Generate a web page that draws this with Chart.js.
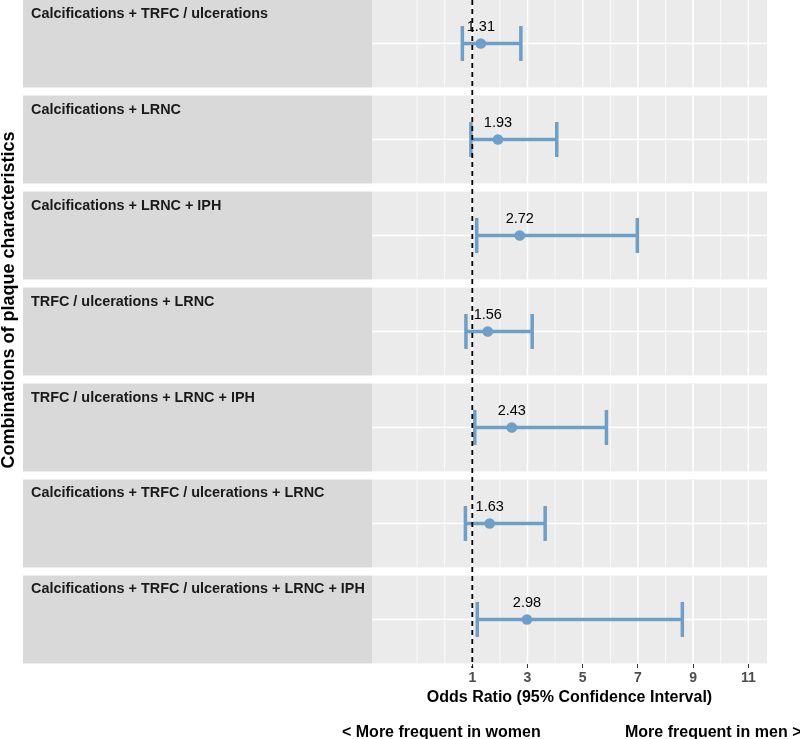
<!DOCTYPE html>
<html>
<head>
<meta charset="utf-8">
<script src="https://cdn.jsdelivr.net/npm/chart.js@4.4.1/dist/chart.umd.min.js"></script>
<style>
    html, body { margin: 0; padding: 0; background: #ffffff; }
    #wrap { position: relative; width: 800px; height: 739px; }
</style>
</head>
<body>
<div id="wrap"><canvas id="forestChart"></canvas></div>
<script>
// Data
const combinations = [
    'Calcifications + TRFC / ulcerations',
    'Calcifications + LRNC',
    'Calcifications + LRNC + IPH',
    'TRFC / ulcerations + LRNC',
    'TRFC / ulcerations + LRNC + IPH',
    'Calcifications + TRFC / ulcerations + LRNC',
    'Calcifications + TRFC / ulcerations + LRNC + IPH'
];
const oddsRatios = [1.31, 1.93, 2.72, 1.56, 2.43, 1.63, 2.98];
const lowerCI = [0.64, 0.95, 1.16, 0.77, 1.09, 0.75, 1.18];
const upperCI = [2.76, 4.06, 6.98, 3.17, 5.86, 3.64, 8.61];
const xTicks = [1, 3, 5, 7, 9, 11];
const gridValues = [-1, 0, 1, 2, 3, 4, 5, 6, 7, 8, 9, 10, 11];
const refValue = 1;

const barColor = '#6f9ec6';
const fontFamily = '"Liberation Sans", Arial, Helvetica, sans-serif';

Chart.defaults.font.family = fontFamily;

// one line dataset per row for the confidence interval, caps are rotated 'line' points
const datasets = combinations.map((name, i) => ({
    label: name,
    data: [{ x: lowerCI[i], y: i }, { x: upperCI[i], y: i }],
    showLine: true,
    borderColor: barColor,
    borderWidth: 3.5,
    pointStyle: 'line',
    pointRotation: 90,
    pointRadius: 17.5,
    pointHoverRadius: 17.5,
    pointBorderWidth: 3.5,
    pointBorderColor: barColor
}));

datasets.push({
    label: 'Odds ratio',
    data: oddsRatios.map((v, i) => ({ x: v, y: i })),
    backgroundColor: barColor,
    borderWidth: 0,
    pointRadius: 5.3,
    pointHoverRadius: 5.3
});

// panel backgrounds, grid and facet labels
const panelPlugin = {
    id: 'panels',
    beforeDatasetsDraw(chart) {
        const { ctx, chartArea, scales: { x, y } } = chart;
        ctx.save();
        combinations.forEach((name, i) => {
            const cy = y.getPixelForValue(i);
            const half = Math.abs(y.getPixelForValue(i + 0.458) - cy);
            const top = cy - half;
            const h = half * 2;

            ctx.fillStyle = '#ebebeb';
            ctx.fillRect(chartArea.left, top, chartArea.right - chartArea.left, h);

            ctx.strokeStyle = '#ffffff';
            gridValues.forEach(v => {
                const px = x.getPixelForValue(v);
                ctx.lineWidth = xTicks.includes(v) ? 1.5 : 0.8;
                ctx.beginPath();
                ctx.moveTo(px, top);
                ctx.lineTo(px, top + h);
                ctx.stroke();
            });
            ctx.lineWidth = 1.5;
            ctx.beginPath();
            ctx.moveTo(chartArea.left, cy);
            ctx.lineTo(chartArea.right, cy);
            ctx.stroke();

            ctx.fillStyle = '#d9d9d9';
            ctx.fillRect(23, top, chartArea.left - 23, h);
            ctx.fillStyle = '#1a1a1a';
            ctx.font = 'bold 14.4px ' + fontFamily;
            ctx.textAlign = 'left';
            ctx.textBaseline = 'alphabetic';
            ctx.fillText(name, 31, top + 18);
        });
        ctx.restore();
    },
    afterDatasetsDraw(chart) {
        const { ctx, chartArea, scales: { x } } = chart;
        ctx.save();
        // reference line at OR = 1
        const rx = x.getPixelForValue(refValue);
        ctx.strokeStyle = '#000000';
        ctx.lineWidth = 1.8;
        ctx.setLineDash([5, 4]);
        ctx.beginPath();
        ctx.moveTo(rx, chartArea.top);
        ctx.lineTo(rx, chartArea.bottom + 4);
        ctx.stroke();
        ctx.setLineDash([]);

        // value labels above the points
        const meta = chart.getDatasetMeta(chart.data.datasets.length - 1);
        ctx.fillStyle = '#000000';
        ctx.font = '14.5px ' + fontFamily;
        ctx.textAlign = 'center';
        ctx.textBaseline = 'alphabetic';
        meta.data.forEach((pt, i) => {
            ctx.fillText(oddsRatios[i].toFixed(2), pt.x, pt.y - 12);
        });
        ctx.restore();
    },
    afterDraw(chart) {
        const { ctx } = chart;
        ctx.save();
        ctx.fillStyle = '#000000';
        ctx.font = 'bold 16px ' + fontFamily;
        ctx.textAlign = 'left';
        ctx.textBaseline = 'alphabetic';
        ctx.fillText('< More frequent in women', 342, 737);
        ctx.fillText('More frequent in men >', 625, 737);

        ctx.translate(9, 300);
        ctx.rotate(-Math.PI / 2);
        ctx.font = 'bold 18px ' + fontFamily;
        ctx.textAlign = 'center';
        ctx.textBaseline = 'middle';
        ctx.fillText('Combinations of plaque characteristics', 0, 0);
        ctx.restore();
    }
};

new Chart(document.getElementById('forestChart'), {
    type: 'scatter',
    data: { datasets: datasets },
    options: {
        responsive: true,
        maintainAspectRatio: false,
        animation: false,
        events: [],
        layout: {
            autoPadding: false,
            padding: { left: 372, right: 33, top: 0, bottom: 0 }
        },
        plugins: {
            legend: { display: false },
            tooltip: { enabled: false }
        },
        scales: {
            x: {
                type: 'linear',
                min: -2.634,
                max: 11.678,
                bounds: 'data',
                afterBuildTicks: scale => {
                    scale.ticks = xTicks.map(v => ({ value: v }));
                },
                afterFit: scale => {
                    scale.height = 75;
                },
                border: { display: false },
                grid: {
                    drawOnChartArea: false,
                    drawTicks: true,
                    tickLength: 4,
                    tickColor: '#333333',
                    tickWidth: 1
                },
                ticks: {
                    color: '#4d4d4d',
                    font: { size: 14, weight: 'bold' },
                    padding: 2,
                    maxRotation: 0,
                    autoSkip: false
                },
                title: {
                    display: true,
                    text: 'Odds Ratio (95% Confidence Interval)',
                    color: '#000000',
                    font: { size: 16, weight: 'bold' },
                    padding: { top: 0, bottom: 32 }
                }
            },
            y: {
                type: 'linear',
                display: false,
                reverse: true,
                min: -0.453,
                max: 6.464
            }
        }
    },
    plugins: [panelPlugin]
});
</script>
</body>
</html>
